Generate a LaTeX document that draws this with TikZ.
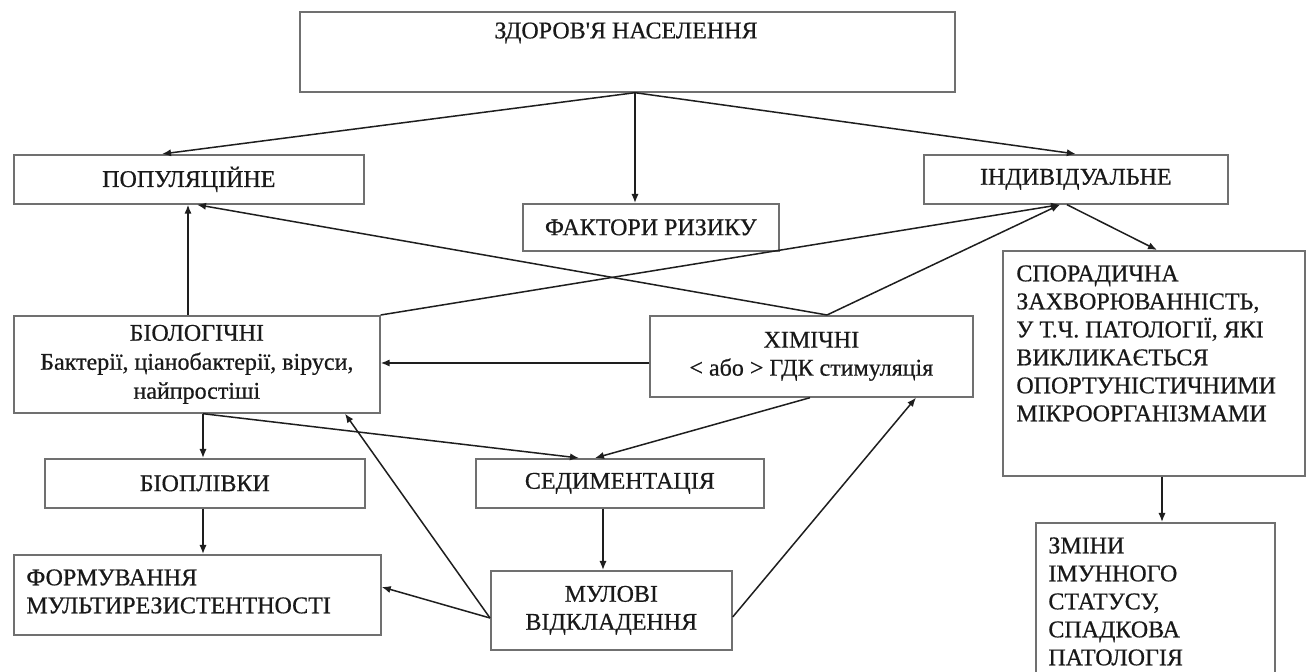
\documentclass[tikz,border=0pt]{standalone}
\usepackage{fontspec}
\setmainfont{Liberation Serif}
\newfontfamily\heavyserif[FakeBold=0.6]{Liberation Serif}
\usetikzlibrary{arrows.meta}
\definecolor{boxgray}{HTML}{707070}
\definecolor{linegray}{HTML}{1E1E1E}
\begin{document}
\begin{tikzpicture}[x=0.5pt,y=-0.5pt,
  box/.style={draw=boxgray, line width=0.85pt, inner sep=0pt, anchor=north west,
    font=\heavyserif\fontsize{12}{14}\selectfont, align=center, text=black!90},
  txt/.style={inner sep=0pt, font=\heavyserif\fontsize{12}{14}\selectfont, align=left, text=black!90},
  conn/.style={draw=linegray, line width=0.75pt, -{Latex[length=4.5pt,width=3.6pt]}}]
\fill[white] (0,0) rectangle (1306,672);
\useasboundingbox (0,0) rectangle (1306,672);
\clip (0,0) rectangle (1306,672);

% boxes
\node[box, minimum width=327.5pt, minimum height=40pt] (top) at (299,11) {};
\node[txt] (topT) at (626,33) {ЗДОРОВ'Я НАСЕЛЕННЯ};
\node[box, minimum width=175pt, minimum height=24.5pt] (pop) at (13,154) {ПОПУЛЯЦІЙНЕ};
\node[box, minimum width=128pt, minimum height=23.5pt] (risk) at (522,203) {ФАКТОРИ РИЗИКУ};
\node[box, minimum width=152pt, minimum height=24.5pt] (ind) at (923,154) {ІНДИВІДУАЛЬНЕ};
\node[box, minimum width=151pt, minimum height=112.5pt] (spor) at (1002,250) {};
\node[txt, anchor=north west] (sporT) at (1016,265)
  {СПОРАДИЧНА\\ЗАХВОРЮВАННІСТЬ,\\У Т.Ч. ПАТОЛОГІЇ, ЯКІ\\ВИКЛИКАЄТЬСЯ\\ОПОРТУНІСТИЧНИМИ\\МІКРООРГАНІЗМАМИ};
\node[box, minimum width=183pt, minimum height=48.5pt,
  font=\heavyserif\fontsize{12}{14.5}\selectfont] (bio) at (13,315)
  {БІОЛОГІЧНІ\\Бактерії, ціанобактерії, віруси,\\найпростіші};
\node[box, minimum width=161.5pt, minimum height=40.5pt] (chem) at (649,315)
  {ХІМІЧНІ\\< або > ГДК стимуляція};
\node[box, minimum width=160pt, minimum height=24.5pt] (biopl) at (44,458) {БІОПЛІВКИ};
\node[box, minimum width=144pt, minimum height=24.5pt] (sed) at (475,458) {СЕДИМЕНТАЦІЯ};
\node[box, minimum width=183.5pt, minimum height=40pt] (form) at (13,554) {};
\node[txt, anchor=north west] (formT) at (26,569) {ФОРМУВАННЯ\\МУЛЬТИРЕЗИСТЕНТНОСТІ};
\node[box, minimum width=120.5pt, minimum height=39.5pt] (mul) at (490,570) {МУЛОВІ\\ВІДКЛАДЕННЯ};
\node[box, minimum width=119.5pt, minimum height=80pt] (zmin) at (1035,522) {};
\node[txt, anchor=north west] (zminT) at (1048,537)
  {ЗМІНИ\\ІМУННОГО\\СТАТУСУ,\\СПАДКОВА\\ПАТОЛОГІЯ};

% connectors
\draw[conn] ([xshift=168pt]top.south west) -- ([xshift=74.5pt]pop.north west);
\draw[conn] ([xshift=168pt]top.south west) -- ([xshift=56.5pt]risk.north west);
\draw[conn] ([xshift=168pt]top.south west) -- (ind.north);
\draw[conn] ([xshift=87.5pt]bio.north west) -- ([xshift=87.5pt]pop.south west);
\draw[conn] ([xshift=89pt]chem.north west) -- ([xshift=92pt]pop.south west);
\draw[conn] (bio.north east) -- ([xshift=68.5pt]ind.south west);
\draw[conn] ([xshift=89pt]chem.north west) -- ([xshift=68.5pt]ind.south west);
\draw[conn] ([xshift=72pt]ind.south west) -- ([xshift=77.5pt]spor.north west);
\draw[conn] ([yshift=-24pt]chem.north west) -- ([yshift=-24pt]bio.north east);
\draw[conn] ([xshift=95pt]bio.south west) -- ([xshift=79.5pt]biopl.north west);
\draw[conn] ([xshift=95pt]bio.south west) -- ([xshift=52pt]sed.north west);
\draw[conn] ([xshift=80.5pt]chem.south west) -- ([xshift=60pt]sed.north west);
\draw[conn] ([xshift=79.5pt]biopl.south west) -- ([xshift=95pt]form.north west);
\draw[conn] ([xshift=64pt]sed.south west) -- ([xshift=56.5pt]mul.north west);
\draw[conn] ([yshift=-24pt]mul.north west) -- ([yshift=-16.5pt]form.north east);
\draw[conn] ([yshift=-24pt]mul.north west) -- ([xshift=166pt]bio.south west);
\draw[conn] ([yshift=-23.5pt]mul.north east) -- ([xshift=133.5pt]chem.south west);
\draw[conn] ([xshift=80pt]spor.south west) -- ([xshift=63.5pt]zmin.north west);
\end{tikzpicture}
\end{document}
